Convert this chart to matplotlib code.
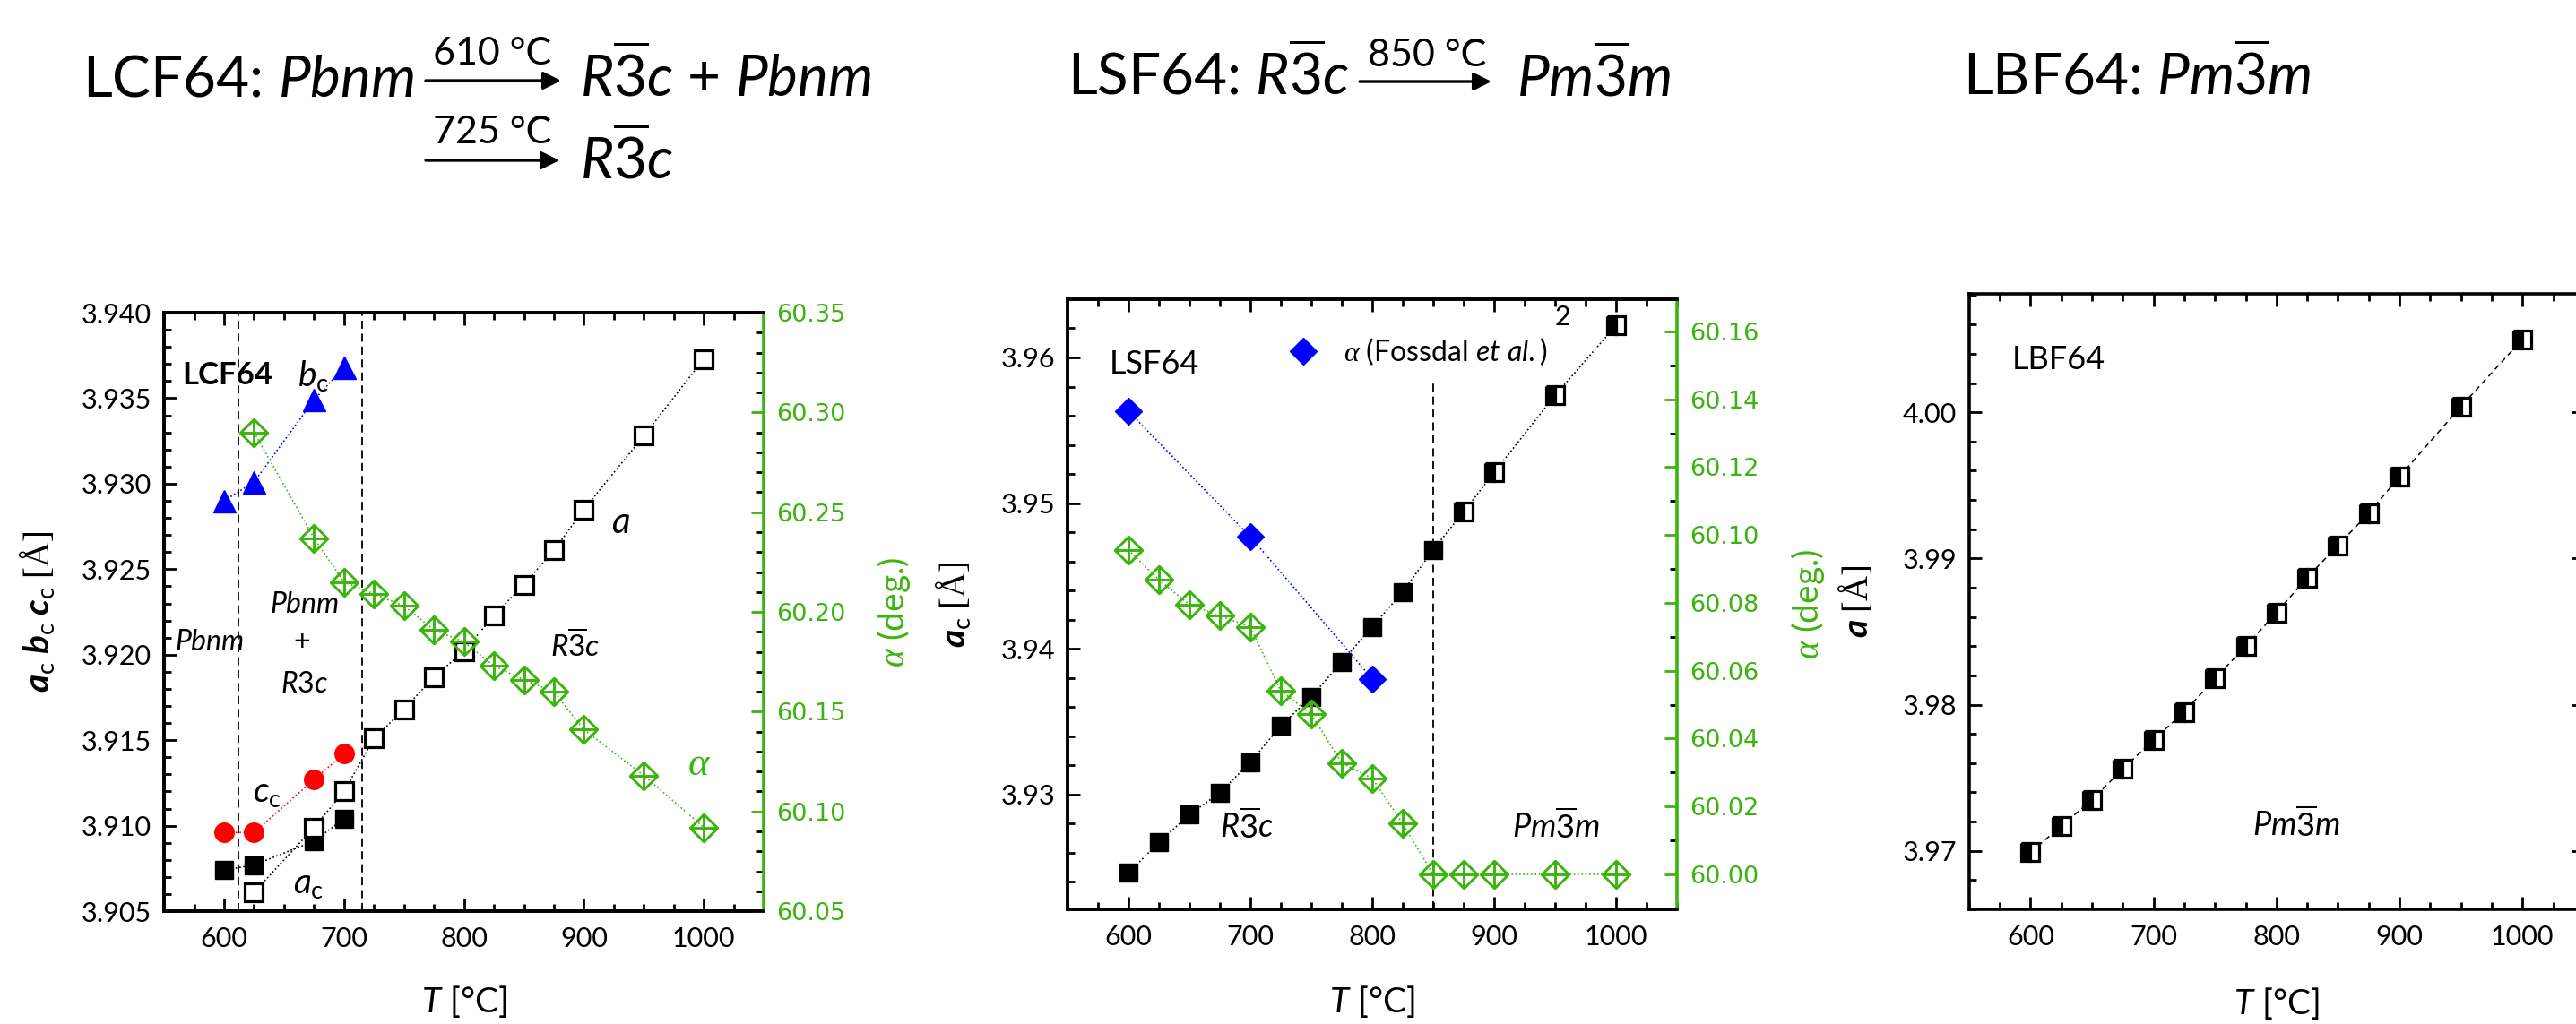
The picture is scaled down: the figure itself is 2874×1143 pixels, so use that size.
import numpy as np
import matplotlib
matplotlib.use('Agg')
import matplotlib.pyplot as plt
from matplotlib.path import Path
from matplotlib.ticker import MultipleLocator, FormatStrFormatter

plt.rcParams['font.family'] = ['Lato', 'DejaVu Sans']
plt.rcParams['mathtext.fontset'] = 'custom'
plt.rcParams['mathtext.rm'] = 'Lato'
plt.rcParams['mathtext.it'] = 'Lato:italic'
plt.rcParams['mathtext.bf'] = 'Lato:bold'
plt.rcParams['mathtext.bfit'] = 'Lato:bold:italic'
plt.rcParams['mathtext.sf'] = 'Liberation Serif'
plt.rcParams['mathtext.cal'] = 'Liberation Serif:italic'

GREEN = '#3CB40F'
BLUE = '#0000FF'
RED = '#FF0000'

# ---- LCF64 (orthorhombic / two-phase / rhombohedral) ----
T_lcf_pbnm = [600, 625, 675, 700]
lcf_ac = [3.9074, 3.9077, 3.9091, 3.9104]
lcf_bc = [3.9290, 3.9301, 3.9349, 3.9368]
lcf_cc = [3.9096, 3.9096, 3.9127, 3.9142]
T_lcf_r3c = [625, 675, 700, 725, 750, 775, 800, 825, 850, 875, 900, 950, 1000]
lcf_a = [3.9061, 3.9099, 3.9120, 3.9151, 3.9168, 3.9187, 3.9202,
         3.9223, 3.9241, 3.9261, 3.9285, 3.9328, 3.9373]
lcf_alpha = [60.290, 60.237, 60.215, 60.209, 60.203, 60.191, 60.185,
             60.173, 60.166, 60.160, 60.141, 60.118, 60.092]
lcf_transitions = [612, 715]

# ---- LSF64 ----
T_lsf = [600, 625, 650, 675, 700, 725, 750, 775, 800, 825, 850,
         875, 900, 950, 1000]
lsf_a = [3.9246, 3.9267, 3.9286, 3.9301, 3.9322, 3.9347, 3.9367, 3.9391,
         3.9415, 3.9439, 3.9468, 3.9494, 3.9521, 3.9574, 3.9622]
lsf_alpha = [60.0956, 60.0868, 60.0795, 60.0762, 60.0729, 60.0541, 60.0472,
             60.0328, 60.0283, 60.0150, 60.000, 60.000, 60.000, 60.000, 60.000]
T_fossdal = [600, 700, 800]
fossdal_alpha = [60.1365, 60.0995, 60.0576]
lsf_transition = 850
n_r3c = 11  # points below the transition are rhombohedral

# ---- LBF64 ----
T_lbf = [600, 625, 650, 675, 700, 725, 750, 775, 800, 825, 850,
         875, 900, 950, 1000]
lbf_a = [3.9699, 3.9717, 3.9735, 3.9756, 3.9776, 3.9795, 3.9818, 3.9840,
         3.9863, 3.9887, 3.9909, 3.9931, 3.9956, 4.0004, 4.0050]

# diamond with a cross inside
cross_diamond = Path([(0, 1), (1, 0), (0, -1), (-1, 0), (0, 1),
                      (0, 1), (0, -1), (-1, 0), (1, 0)],
                     [Path.MOVETO, Path.LINETO, Path.LINETO, Path.LINETO, Path.CLOSEPOLY,
                      Path.MOVETO, Path.LINETO, Path.MOVETO, Path.LINETO])

dot = (0, (1, 1.6))
LAB = 28
XLAB = 28


def style(ax, ylim, major, minor, fmt, color='black'):
    ax.set_xlim(550, 1050)
    ax.xaxis.set_major_locator(MultipleLocator(100))
    ax.xaxis.set_minor_locator(MultipleLocator(25))
    ax.set_ylim(*ylim)
    ax.yaxis.set_major_locator(MultipleLocator(major))
    ax.yaxis.set_minor_locator(MultipleLocator(minor))
    ax.yaxis.set_major_formatter(FormatStrFormatter(fmt))
    ax.tick_params(which='both', direction='in', width=2, labelsize=22)
    ax.tick_params(which='major', length=10)
    ax.tick_params(which='minor', length=5.5)
    ax.tick_params(axis='x', pad=12)
    ax.tick_params(axis='y', pad=10, colors=color)
    for s in ax.spines.values():
        s.set_linewidth(2.6)


def green_ticks(ax):
    ax.tick_params(axis='y', labelsize=19.5)
    for lab in ax.get_yticklabels():
        lab.set_family('DejaVu Sans')


fig = plt.figure(figsize=(28.74, 11.43), dpi=100)

ax1 = fig.add_axes([0.0637, 0.1102, 0.2328, 0.5844])
ax2 = fig.add_axes([0.4144, 0.1120, 0.2366, 0.5958])
ax3 = fig.add_axes([0.7644, 0.1120, 0.2387, 0.6010])

# ---------------- LCF64 ----------------
style(ax1, (3.905, 3.940), 0.005, 0.001, '%.3f')
ax1.tick_params(axis='x', top=True, which='both')
ax1.spines['right'].set_visible(False)
for t in lcf_transitions:
    ax1.axvline(t, color='black', lw=1.3, ls=(0, (5, 3)), zorder=1)
ax1.plot(T_lcf_pbnm, lcf_bc, ls=dot, lw=1.2, color=BLUE, marker='^', ms=18,
         mfc=BLUE, mec=BLUE)
ax1.plot(T_lcf_pbnm, lcf_cc, ls=dot, lw=1.2, color=RED, marker='o', ms=15.5,
         mfc=RED, mec=RED)
ax1.plot(T_lcf_pbnm, lcf_ac, ls=dot, lw=1.2, color='black', marker='s', ms=14,
         mfc='black', mec='black')
ax1.plot(T_lcf_r3c, lcf_a, ls=dot, lw=1.2, color='black', marker='s', ms=14,
         mfc='white', mec='black', mew=2.3)
ax1.set_xlabel(r'$T$ [°C]', fontsize=XLAB, va='center')
ax1.xaxis.set_label_coords(0.5, -0.151)
ax1.set_ylabel(r'$\mathbfit{a}_\mathrm{c}\;\mathbfit{b}_\mathrm{c}\;\mathbfit{c}_\mathrm{c}\;\mathsf{[Å]}$',
               fontsize=LAB, va='center')
ax1.yaxis.set_label_coords(-0.211, 0.5)

ax1r = ax1.twinx()
style(ax1r, (60.05, 60.35), 0.05, 0.01, '%.2f', color=GREEN)
green_ticks(ax1r)
ax1r.spines['right'].set_color(GREEN)
ax1r.plot(T_lcf_r3c, lcf_alpha, ls=dot, lw=1.2, color=GREEN, marker=cross_diamond,
          ms=22, mfc='none', mec=GREEN, mew=2.1)
ax1r.set_ylabel(r'$\mathcal{\alpha}$ (deg.)', fontsize=LAB,
                color=GREEN, rotation=90, va='center')
ax1r.yaxis.set_label_coords(1.217, 0.5)

ax1.text(565, 3.9358, 'LCF64', weight='bold', fontsize=25, va='baseline')
ax1.text(674, 3.9363, r'$b_\mathrm{c}$', fontsize=28, ha='center', va='center')
ax1.text(931, 3.9277, r'$a$', fontsize=29, ha='center', va='center')
ax1.text(588, 3.9207, r'$Pbnm$', fontsize=23, ha='center', va='center')
ax1.text(667, 3.9229, r'$Pbnm$', fontsize=23, ha='center', va='center')
ax1.text(665, 3.9207, '+', fontsize=23, ha='center', va='center')
ax1.text(667, 3.9183, r'$R\overline{3}c$', fontsize=23, ha='center', va='center')
ax1.text(893, 3.9205, r'$R\overline{3}c$', fontsize=24, ha='center', va='center')
ax1.text(636, 3.9119, r'$c_\mathrm{c}$', fontsize=28, ha='center', va='center')
ax1.text(670, 3.9066, r'$a_\mathrm{c}$', fontsize=28, ha='center', va='center')
ax1.text(996, 3.9136, r'$\mathcal{\alpha}$', fontsize=32, color=GREEN,
         ha='center', va='center')

# ---------------- LSF64 ----------------
style(ax2, (3.9221, 3.9640), 0.01, 0.002, '%.2f')
ax2.tick_params(axis='x', top=True, which='both')
ax2.spines['right'].set_visible(False)
ax2.axvline(lsf_transition, ymax=0.87, color='black', lw=1.3, ls=(0, (5, 3)), zorder=1)
ax2.plot(T_lsf, lsf_a, ls=dot, lw=1.2, color='black', zorder=2)
ax2.plot(T_lsf[:n_r3c], lsf_a[:n_r3c], ls='none', marker='s', ms=14,
         mfc='black', mec='black', zorder=3)
ax2.plot(T_lsf[n_r3c:], lsf_a[n_r3c:], ls='none', marker='s', ms=14,
         fillstyle='left', mfc='black', mfcalt='white', mec='black', mew=2.3, zorder=3)
ax2.set_xlabel(r'$T$ [°C]', fontsize=XLAB, va='center')
ax2.xaxis.set_label_coords(0.5, -0.151)
ax2.set_ylabel(r'$\mathbfit{a}_\mathrm{c}\;\mathsf{[Å]}$', fontsize=LAB, va='center')
ax2.yaxis.set_label_coords(-0.188, 0.5)

ax2r = ax2.twinx()
style(ax2r, (59.9897, 60.1695), 0.02, 0.01, '%.2f', color=GREEN)
green_ticks(ax2r)
ax2r.spines['right'].set_color(GREEN)
ax2r.plot(T_lsf, lsf_alpha, ls=dot, lw=1.2, color=GREEN, marker=cross_diamond,
          ms=22, mfc='none', mec=GREEN, mew=2.1)
ax2r.plot(T_fossdal, fossdal_alpha, ls=dot, lw=1.2, color=BLUE, marker='D', ms=15,
          mfc=BLUE, mec=BLUE, label=r'$\mathcal{\alpha}$ (Fossdal $et\ al.$)')
ax2r.set_ylabel(r'$\mathcal{\alpha}$ (deg.)', fontsize=LAB,
                color=GREEN, rotation=90, va='center')
ax2r.yaxis.set_label_coords(1.215, 0.5)
leg = ax2r.legend(loc='center left', bbox_to_anchor=(0.345, 0.914), frameon=False,
                  handlelength=1.0, handletextpad=0.9, borderaxespad=0,
                  prop={'size': 23})
for h in leg.legend_handles:
    h.set_linestyle('none')

ax2.text(0.069, 0.878, 'LSF64', fontsize=26, va='baseline', transform=ax2.transAxes)
ax2.text(0.80, 0.957, '2', fontsize=22, va='baseline', transform=ax2.transAxes)
ax2.text(697, 3.9278, r'$R\overline{3}c$', fontsize=26, ha='center', va='center')
ax2.text(951, 3.9278, r'$Pm\overline{3}m$', fontsize=26, ha='center', va='center')

# ---------------- LBF64 ----------------
style(ax3, (3.966, 4.0081), 0.01, 0.002, '%.2f')
ax3.tick_params(axis='both', top=True, right=True, which='both')
ax3.plot(T_lbf, lbf_a, ls=(0, (4, 3)), lw=1.1, color='black', marker='s', ms=14,
         fillstyle='left', mfc='black', mfcalt='white', mec='black', mew=2.3)
ax3.set_xlabel(r'$T$ [°C]', fontsize=XLAB, va='center')
ax3.xaxis.set_label_coords(0.5, -0.153)
ax3.set_ylabel(r'$\mathbfit{a}\;\mathsf{[Å]}$', fontsize=LAB, va='center')
ax3.yaxis.set_label_coords(-0.185, 0.5)
ax3.text(0.07, 0.878, 'LBF64', fontsize=26, va='baseline', transform=ax3.transAxes)
ax3.text(816, 3.9718, r'$Pm\overline{3}m$', fontsize=26, ha='center', va='center')

# ---------------- phase sequences above the panels ----------------
top = fig.add_axes([0, 0, 1, 1], zorder=-1)
top.set_xlim(0, 2874)
top.set_ylim(1143, 0)
top.axis('off')

big = dict(fontsize=46, va='baseline')
small = dict(fontsize=31, va='baseline', ha='center')
arrow = dict(arrowstyle='-|>', color='black', lw=2.4, mutation_scale=30,
             shrinkA=0, shrinkB=0)

top.text(92, 108, 'LCF64: $Pbnm$', **big)
top.annotate('', xy=(626, 90), xytext=(475, 90), arrowprops=arrow)
top.text(549, 72, '610 °C', **small)
top.text(647, 108, r'$R\overline{3}c$ + $Pbnm$', **big)
top.annotate('', xy=(624, 179), xytext=(475, 179), arrowprops=arrow)
top.text(549, 160, '725 °C', **small)
top.text(647, 200, r'$R\overline{3}c$', **big)

top.text(1191, 106, r'LSF64: $R\overline{3}c$', **big)
top.annotate('', xy=(1664, 91), xytext=(1517, 91), arrowprops=arrow)
top.text(1592, 74, '850 °C', **small)
top.text(1692, 108, r'$Pm\overline{3}m$', **big)

top.text(2190, 106, r'LBF64: $Pm\overline{3}m$', **big)

fig.savefig('out.png', dpi=100)
